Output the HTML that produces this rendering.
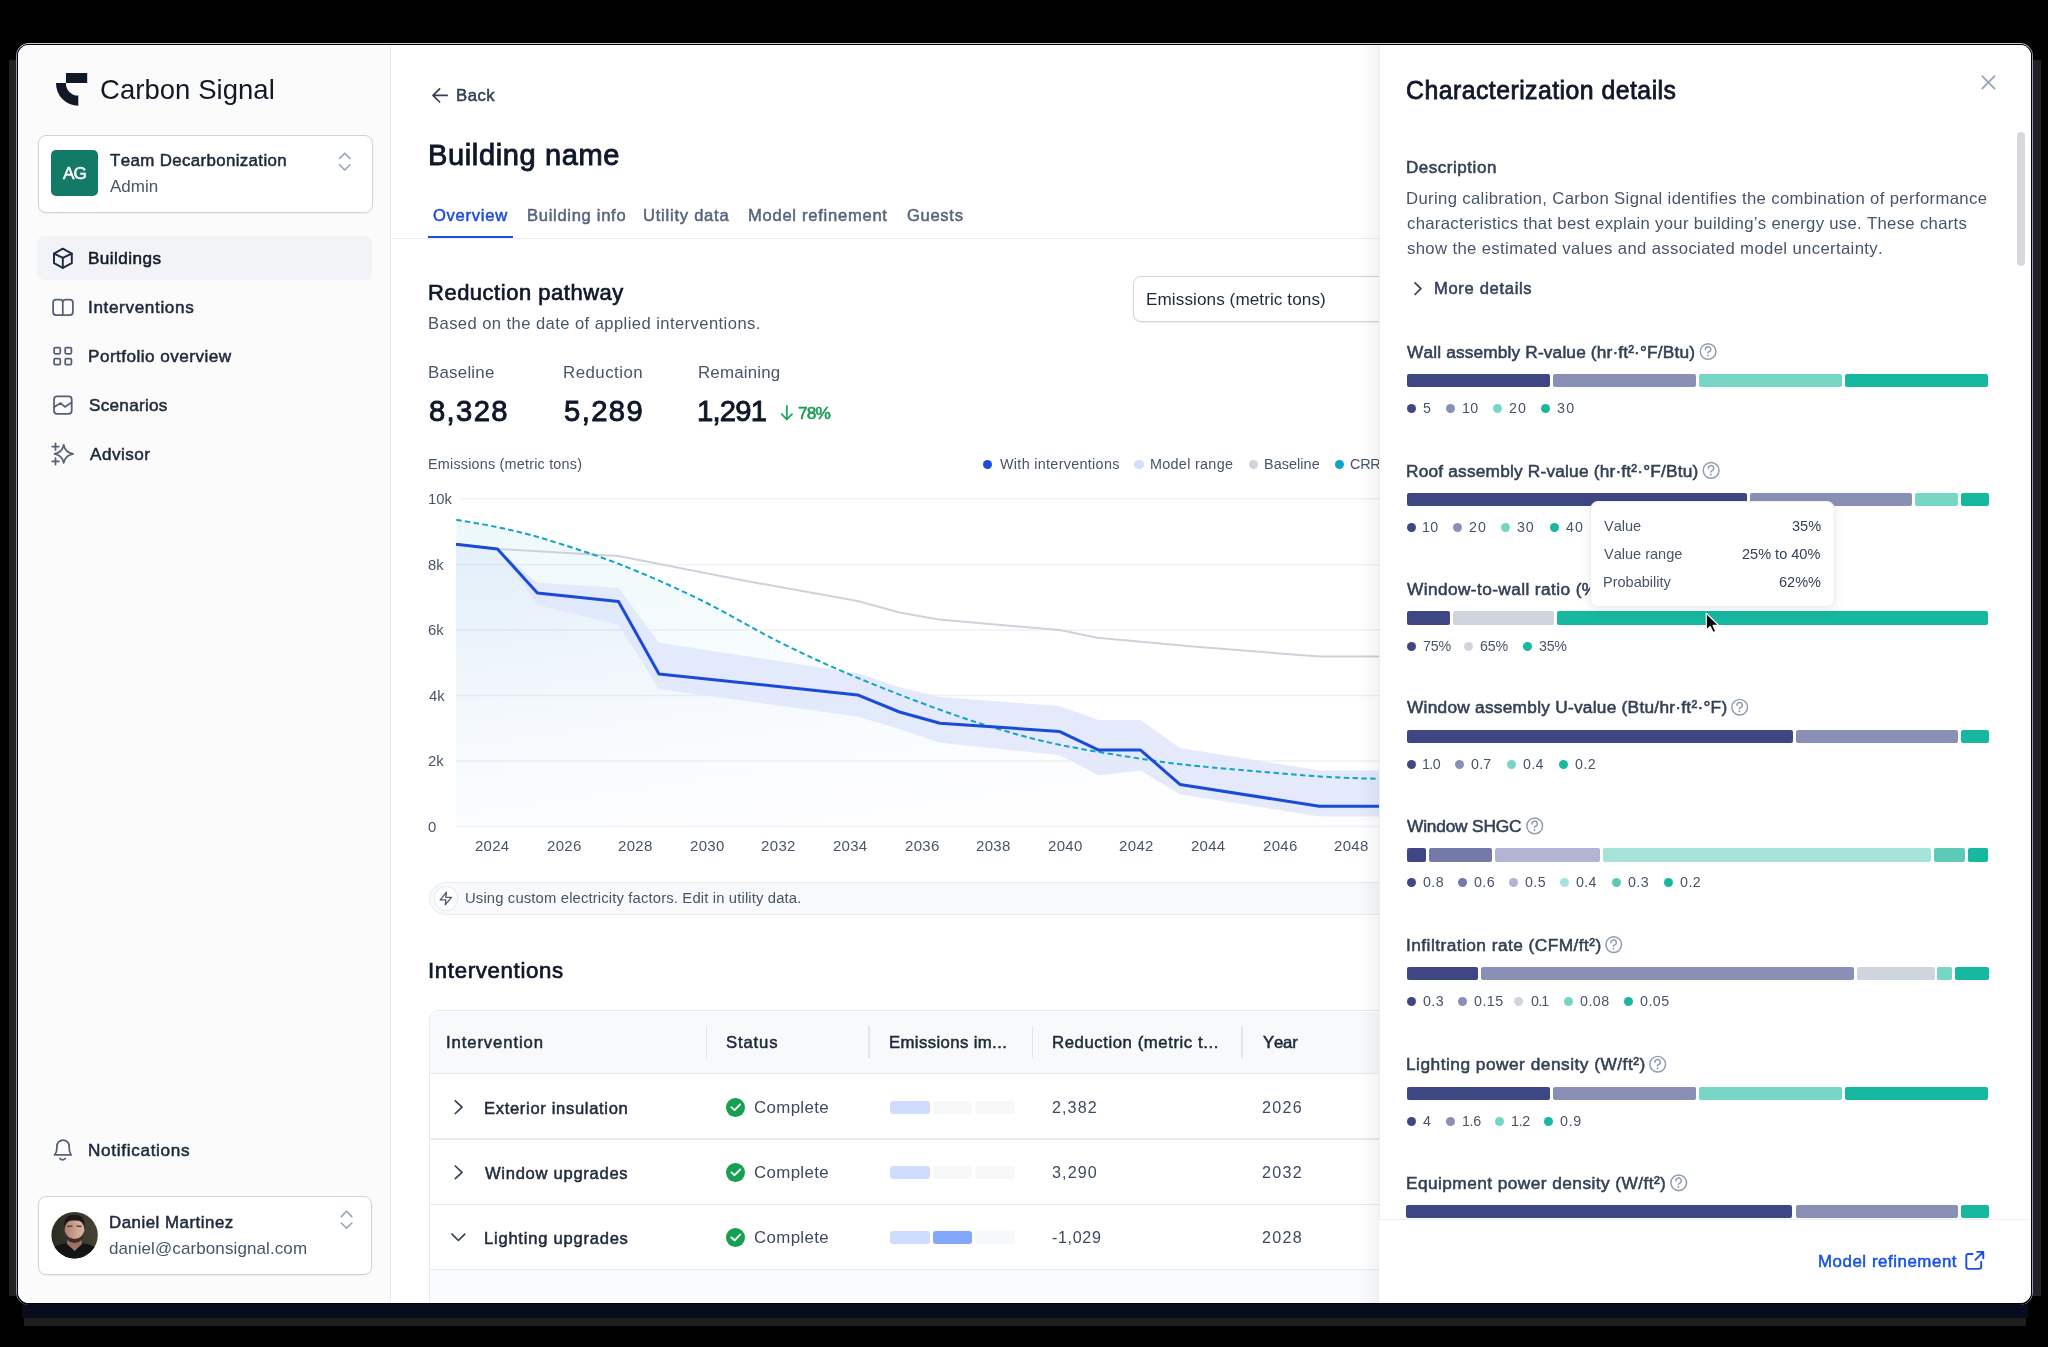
<!DOCTYPE html>
<html><head><meta charset="utf-8"><title>Carbon Signal</title>
<style>
*{margin:0;padding:0;box-sizing:border-box}
html,body{width:2048px;height:1347px;overflow:hidden;background:#000}
body{font-family:"Liberation Sans",sans-serif;font-kerning:none;position:relative}
.win{position:absolute;left:18px;top:45px;width:2013px;height:1258px;border-radius:11px;overflow:hidden;background:#fff}
.pg{position:absolute;left:-18px;top:-45px;width:2048px;height:1347px}
.t{position:absolute;white-space:nowrap;line-height:1;will-change:transform}
.r{position:absolute}
.bm{display:inline-block;width:0;height:0;vertical-align:baseline}
</style></head><body>
<div class="r" style="left:9.00px;top:60.00px;width:7.00px;height:1236.00px;background:rgba(200,200,200,0.17);border-radius:0px;"></div>
<div class="r" style="left:2033.00px;top:60.00px;width:8.00px;height:1236.00px;background:rgba(200,200,200,0.17);border-radius:0px;"></div>
<div class="r" style="left:22.00px;top:1303.00px;width:2006.00px;height:15.00px;background:rgba(25,35,80,0.35);border-radius:0px;"></div>
<div class="r" style="left:24.00px;top:1318.00px;width:2002.00px;height:8.00px;background:rgba(220,220,220,0.14);border-radius:0px;"></div>
<div class="r" style="left:16px;top:43px;width:2017px;height:1262px;border-radius:13px;border:1px solid #9396b4;border-top-color:#c8c8c8;border-bottom:none"></div>
<div class="r" style="left:17px;top:44px;width:2015px;height:1260px;border-radius:12px;border:1px solid #000"></div>
<div class="win"><div class="pg">
<div class="r" style="left:18.00px;top:45.00px;width:372.00px;height:1258.00px;background:#fbfbfc;border-radius:0px;"></div>
<div class="r" style="left:390.00px;top:45.00px;width:1.00px;height:1258.00px;background:#e9ebf0;border-radius:0px;"></div>
<svg class="r" style="left:50px;top:66px;" width="45" height="46" viewBox="50 66 45 46">
<rect x="66" y="73" width="21.2" height="10" fill="#111827"/>
<path d="M56 83 L66 83 A12 12 0 0 0 78.3 95.6 L78.3 105.8 A22.3 22.5 0 0 1 56 83 Z" fill="#111827"/>
</svg>
<div class="t" style="left:100.30px;top:76.11px;font-size:27.47px;color:#111827;letter-spacing:0.061px;">Carbon Signal</div>
<div class="r" style="left:37.50px;top:134.50px;width:335.00px;height:78.00px;background:#fff;border-radius:8px;border:1px solid #cdd3de;box-shadow:0 1px 2px rgba(16,24,40,.05)"></div>
<div class="r" style="left:51.20px;top:150.10px;width:46.60px;height:46.30px;background:#137a68;border-radius:5px;"></div>
<div class="t" style="left:62.67px;top:165.10px;font-size:17.15px;color:#ffffff;-webkit-text-stroke:0.53px #ffffff;letter-spacing:-0.966px;">AG</div>
<div class="t" style="left:110.02px;top:153.42px;font-size:16.86px;color:#1e293b;-webkit-text-stroke:0.52px #1e293b;letter-spacing:0.371px;">Team Decarbonization</div>
<div class="t" style="left:109.97px;top:177.90px;font-size:17.01px;color:#475569;letter-spacing:0.034px;">Admin</div>
<svg class="r" style="left:336px;top:150px;" width="18" height="24" viewBox="336 150 18 24"><path d="M339.5 158.5 L344.8 153.2 L350 158.5 M339.5 164.8 L344.8 170 L350 164.8" fill="none" stroke="#94a3b8" stroke-width="1.6" stroke-linecap="round" stroke-linejoin="round"/></svg>
<div class="r" style="left:37.40px;top:236.40px;width:334.90px;height:43.40px;background:#f1f3f7;border-radius:8px;"></div>
<div class="t" style="left:88.19px;top:250.01px;font-size:17.15px;color:#111827;-webkit-text-stroke:0.53px #111827;letter-spacing:0.441px;">Buildings</div>
<div class="t" style="left:88.02px;top:299.10px;font-size:17.15px;color:#1e293b;-webkit-text-stroke:0.53px #1e293b;letter-spacing:0.633px;">Interventions</div>
<div class="t" style="left:88.19px;top:348.21px;font-size:17.15px;color:#1e293b;-webkit-text-stroke:0.53px #1e293b;letter-spacing:0.465px;">Portfolio overview</div>
<div class="t" style="left:88.82px;top:397.31px;font-size:17.15px;color:#1e293b;-webkit-text-stroke:0.53px #1e293b;letter-spacing:0.266px;">Scenarios</div>
<div class="t" style="left:89.57px;top:446.40px;font-size:17.15px;color:#1e293b;-webkit-text-stroke:0.53px #1e293b;letter-spacing:0.488px;">Advisor</div>
<svg class="r" style="left:50px;top:246px;" width="26" height="24" viewBox="50 246 26 24"><g fill="none" stroke="#1e2a44" stroke-width="1.95" stroke-linecap="round" stroke-linejoin="round"><path d="M62.8 248.7 L71.8 253.6 L71.8 263.2 L62.8 267.9 L54 263.2 L54 253.6 Z"/><path d="M54 253.6 L62.8 257.8 L71.8 253.6 M62.8 257.8 L62.8 267.9"/></g></svg>
<svg class="r" style="left:50px;top:295px;" width="26" height="25" viewBox="50 295 26 25"><g fill="none" stroke="#556075" stroke-width="1.75" stroke-linecap="round" stroke-linejoin="round"><path d="M62.8 302.6 Q62.8 299.6 59.8 299.6 L56.1 299.6 Q53.1 299.6 53.1 302.6 L53.1 312.1 Q53.1 315.1 56.1 315.1 L69.9 315.1 Q72.9 315.1 72.9 312.1 L72.9 302.6 Q72.9 299.6 69.9 299.6 L65.8 299.6 Q62.8 299.6 62.8 302.6 L62.8 315.1"/></g></svg>
<svg class="r" style="left:50px;top:344px;" width="26" height="24" viewBox="50 344 26 24"><g fill="none" stroke="#556075" stroke-width="1.75" stroke-linecap="round" stroke-linejoin="round"><rect x="54.1" y="347.6" width="6.2" height="6.2" rx="1.2"/><rect x="65.2" y="347.6" width="6.2" height="6.2" rx="1.2"/><rect x="54.1" y="358.5" width="6.2" height="6.2" rx="1.2"/><rect x="65.2" y="358.5" width="6.2" height="6.2" rx="1.2"/></g></svg>
<svg class="r" style="left:50px;top:393px;" width="26" height="24" viewBox="50 393 26 24"><g fill="none" stroke="#556075" stroke-width="1.75" stroke-linecap="round" stroke-linejoin="round"><rect x="54" y="396.4" width="17.7" height="17.4" rx="3"/><path d="M54.2 407.1 L60.7 403.1 L64.9 406.9 L71.6 402.5"/></g></svg>
<svg class="r" style="left:50px;top:441px;" width="27" height="26" viewBox="50 441 27 26"><g fill="none" stroke="#556075" stroke-width="1.75" stroke-linecap="round" stroke-linejoin="round"><path d="M63.7 444.8 Q65.2 452.4 73.1 453.9 Q65.2 455.4 63.7 462.9 Q62.2 455.4 54.5 453.9 Q62.2 452.4 63.7 444.8 Z"/><path d="M55.5 443.3 L55.5 449.9 M52.2 446.6 L58.8 446.6 M55.5 458 L55.5 464.6 M52.2 461.3 L58.8 461.3"/></g></svg>
<svg class="r" style="left:50px;top:1136px;" width="26" height="28" viewBox="50 1136 26 28"><g fill="none" stroke="#556075" stroke-width="1.75" stroke-linecap="round" stroke-linejoin="round"><path d="M54.6 1154.9 L71.2 1154.9 Q69.2 1152.2 69.2 1148.2 L69.2 1146.3 A6.15 6.15 0 0 0 56.9 1146.3 L56.9 1148.2 Q56.9 1152.2 54.6 1154.9 Z"/><path d="M59.8 1158.5 Q62.6 1161.3 65.4 1158.5"/></g></svg>
<div class="t" style="left:87.99px;top:1142.01px;font-size:17.15px;color:#1e293b;-webkit-text-stroke:0.53px #1e293b;letter-spacing:0.684px;">Notifications</div>
<div class="r" style="left:37.60px;top:1196.00px;width:334.70px;height:78.50px;background:#fff;border-radius:8px;border:1px solid #cdd3de;box-shadow:0 1px 2px rgba(16,24,40,.05)"></div>
<svg class="r" style="left:51px;top:1211px;" width="48" height="48" viewBox="51 1211 48 48"><defs><clipPath id="av"><circle cx="74.6" cy="1235.2" r="23.2"/></clipPath>
<linearGradient id="avbg" x1="0" y1="0" x2="1" y2="0"><stop offset="0" stop-color="#2b2b24"/><stop offset="1" stop-color="#464437"/></linearGradient>
<linearGradient id="skin" x1="0" y1="0" x2="1" y2="0"><stop offset="0" stop-color="#a97f6d"/><stop offset="0.6" stop-color="#cfa592"/><stop offset="1" stop-color="#d9b5a4"/></linearGradient></defs>
<g clip-path="url(#av)">
<rect x="51" y="1211" width="48" height="48" fill="url(#avbg)"/>
<path d="M67.5 1236 L81.5 1236 L82.5 1256 L66.5 1256 Z" fill="#9d7463"/>
<ellipse cx="74.5" cy="1230.2" rx="9.9" ry="11.4" fill="url(#skin)"/>
<path d="M64.7 1231 Q65 1242.5 74.5 1243 Q84 1242.5 84.3 1231 Q82 1238.5 74.5 1239 Q67 1238.5 64.7 1231 Z" fill="#3b2d25"/>
<path d="M68 1226.4 L72 1226.2 M77 1226.2 L81 1226.4" stroke="#4a3328" stroke-width="1.3" stroke-linecap="round"/>
<path d="M64.4 1226.5 Q63.3 1215 74.3 1214.8 Q85.2 1215 84.6 1226.5 Q83 1220 74.5 1220.6 Q66 1220 64.4 1226.5 Z" fill="#1c1714"/>
<path d="M49 1263 L49 1250 Q56 1244.8 66.3 1243.2 L74.6 1251 L82.8 1243.2 Q93 1244.8 100 1250 L100 1263 Z" fill="#131417"/>
</g></svg>
<div class="t" style="left:108.62px;top:1214.61px;font-size:16.86px;color:#1e293b;-webkit-text-stroke:0.52px #1e293b;letter-spacing:0.506px;">Daniel Martinez</div>
<div class="t" style="left:109.29px;top:1239.61px;font-size:17.01px;color:#475569;letter-spacing:0.100px;">daniel@carbonsignal.com</div>
<svg class="r" style="left:336px;top:1209px;" width="20" height="26" viewBox="336 1209 20 26"><path d="M341.3 1216.6 L346.6 1211.3 L351.8 1216.6 M341.3 1223 L346.6 1228.2 L351.8 1223" fill="none" stroke="#94a3b8" stroke-width="1.6" stroke-linecap="round" stroke-linejoin="round"/></svg>
<svg class="r" style="left:428px;top:84px;" width="24" height="22" viewBox="428 84 24 22"><path d="M447.2 95.4 L433.2 95.4 M439.6 88.8 L433 95.4 L439.6 102" fill="none" stroke="#334155" stroke-width="1.7" stroke-linecap="round" stroke-linejoin="round"/></svg>
<div class="t" style="left:456.13px;top:87.90px;font-size:16.72px;color:#334155;-webkit-text-stroke:0.52px #334155;letter-spacing:0.495px;">Back</div>
<div class="t" style="left:428.02px;top:140.80px;font-size:29.07px;color:#0f172a;-webkit-text-stroke:0.90px #0f172a;letter-spacing:0.604px;">Building name</div>
<div class="t" style="left:432.82px;top:207.91px;font-size:16.57px;color:#1d4ed8;-webkit-text-stroke:0.51px #1d4ed8;letter-spacing:0.727px;">Overview</div>
<div class="t" style="left:526.74px;top:207.91px;font-size:16.57px;color:#56657e;-webkit-text-stroke:0.51px #56657e;letter-spacing:0.698px;">Building info</div>
<div class="t" style="left:643.22px;top:207.91px;font-size:16.57px;color:#56657e;-webkit-text-stroke:0.51px #56657e;letter-spacing:0.757px;">Utility data</div>
<div class="t" style="left:748.24px;top:207.91px;font-size:16.57px;color:#56657e;-webkit-text-stroke:0.51px #56657e;letter-spacing:0.731px;">Model refinement</div>
<div class="t" style="left:906.77px;top:207.91px;font-size:16.57px;color:#56657e;-webkit-text-stroke:0.51px #56657e;letter-spacing:0.688px;">Guests</div>
<div class="r" style="left:391.00px;top:237.50px;width:988.00px;height:1.30px;background:#eceef2;border-radius:0px;"></div>
<div class="r" style="left:428.40px;top:235.90px;width:84.90px;height:2.40px;background:#1d4ed8;border-radius:0px;"></div>
<div class="t" style="left:428.10px;top:282.21px;font-size:21.95px;color:#0f172a;-webkit-text-stroke:0.68px #0f172a;letter-spacing:0.542px;">Reduction pathway</div>
<div class="t" style="left:428.04px;top:316.30px;font-size:16.57px;color:#475569;letter-spacing:0.437px;">Based on the date of applied interventions.</div>
<div class="r" style="left:1133.00px;top:276.30px;width:267.00px;height:45.40px;background:#fff;border-radius:8px;border:1px solid #cfd4dd;box-shadow:0 1px 2px rgba(16,24,40,.06)"></div>
<div class="t" style="left:1146.49px;top:291.10px;font-size:17.15px;color:#1e293b;letter-spacing:0.075px;">Emissions (metric tons)</div>
<div class="t" style="left:428.02px;top:365.22px;font-size:16.86px;color:#475569;letter-spacing:0.237px;">Baseline</div>
<div class="t" style="left:563.02px;top:365.22px;font-size:16.86px;color:#475569;letter-spacing:0.469px;">Reduction</div>
<div class="t" style="left:698.22px;top:365.22px;font-size:16.86px;color:#475569;letter-spacing:0.184px;">Remaining</div>
<div class="t" style="left:428.63px;top:397.10px;font-size:29.22px;color:#0f172a;-webkit-text-stroke:0.91px #0f172a;letter-spacing:1.357px;">8,328</div>
<div class="t" style="left:563.53px;top:397.10px;font-size:29.22px;color:#0f172a;-webkit-text-stroke:0.91px #0f172a;letter-spacing:1.411px;">5,289</div>
<div class="t" style="left:697.37px;top:397.10px;font-size:29.22px;color:#0f172a;-webkit-text-stroke:0.91px #0f172a;letter-spacing:-0.765px;">1,291</div>
<svg class="r" style="left:778px;top:402px;" width="18" height="22" viewBox="778 402 18 22"><path d="M786.8 406 L786.8 419.3 M781.6 414.2 L786.8 419.4 L792 414.2" fill="none" stroke="#1aab5e" stroke-width="1.8" stroke-linecap="round" stroke-linejoin="round"/></svg>
<div class="t" style="left:798.11px;top:404.91px;font-size:17.30px;color:#169c55;-webkit-text-stroke:0.54px #169c55;letter-spacing:-0.908px;">78%</div>
<div class="t" style="left:428.32px;top:457.00px;font-size:14.39px;color:#475569;letter-spacing:0.207px;">Emissions (metric tons)</div>
<div class="r" style="left:983.20px;top:459.70px;width:9.20px;height:9.20px;background:#1d4ed8;border-radius:5px;"></div>
<div class="t" style="left:1000.04px;top:456.90px;font-size:14.39px;color:#475569;letter-spacing:0.301px;">With interventions</div>
<div class="r" style="left:1134.40px;top:459.70px;width:9.20px;height:9.20px;background:#d3ddfc;border-radius:5px;"></div>
<div class="t" style="left:1150.22px;top:456.90px;font-size:14.39px;color:#475569;letter-spacing:0.303px;">Model range</div>
<div class="r" style="left:1248.70px;top:459.70px;width:9.20px;height:9.20px;background:#cfd4dc;border-radius:5px;"></div>
<div class="t" style="left:1264.32px;top:456.90px;font-size:14.39px;color:#475569;letter-spacing:0.075px;">Baseline</div>
<div class="r" style="left:1334.90px;top:459.70px;width:9.20px;height:9.20px;background:#0ea5c9;border-radius:5px;"></div>
<div class="t" style="left:1350.27px;top:456.90px;font-size:14.39px;color:#475569;letter-spacing:-0.212px;">CRREM</div>
<svg class="r" style="left:420px;top:480px;" width="959" height="390" viewBox="420 480 959 390"><defs>
<linearGradient id="ga" x1="0" y1="0" x2="0.45" y2="1"><stop offset="0" stop-color="#0ea5c9" stop-opacity="0.075"/><stop offset="0.6" stop-color="#0ea5c9" stop-opacity="0.02"/><stop offset="1" stop-color="#0ea5c9" stop-opacity="0.0"/></linearGradient>
<linearGradient id="gb" x1="0" y1="0" x2="0.5" y2="1"><stop offset="0" stop-color="#1d4ed8" stop-opacity="0.06"/><stop offset="0.7" stop-color="#1d4ed8" stop-opacity="0.012"/><stop offset="1" stop-color="#1d4ed8" stop-opacity="0.008"/></linearGradient>
</defs><line x1="460.5" y1="498.8" x2="1379" y2="498.8" stroke="#f0f1f4" stroke-width="1.4"/><line x1="456.3" y1="564.6" x2="1379" y2="564.6" stroke="#f0f1f4" stroke-width="1.4"/><line x1="456.3" y1="630.0" x2="1379" y2="630.0" stroke="#f0f1f4" stroke-width="1.4"/><line x1="456.3" y1="695.5" x2="1379" y2="695.5" stroke="#f0f1f4" stroke-width="1.4"/><line x1="456.3" y1="761.0" x2="1379" y2="761.0" stroke="#f0f1f4" stroke-width="1.4"/><line x1="456.3" y1="826.6" x2="1379" y2="826.6" stroke="#f0f1f4" stroke-width="1.4"/><path d="M456.30 519.80 C463.25 521.05 483.38 524.13 498.00 527.30 C512.62 530.47 523.92 532.72 544.00 538.80 C564.08 544.88 592.50 553.67 618.50 563.80 C644.50 573.93 672.97 586.45 700.00 599.60 C727.03 612.75 754.43 629.67 780.70 642.70 C806.97 655.73 831.05 666.62 857.60 677.80 C884.15 688.98 916.27 701.18 940.00 709.80 C963.73 718.42 980.12 723.68 1000.00 729.50 C1019.88 735.32 1035.87 739.83 1059.30 744.70 C1082.73 749.57 1117.15 755.10 1140.60 758.70 C1164.05 762.30 1170.20 763.35 1200.00 766.30 C1229.80 769.25 1288.57 774.28 1319.40 776.40 C1350.23 778.52 1374.07 778.57 1385.00 779.00 L1385 826.6 L456 826.6 Z" fill="url(#ga)"/><polygon points="456.0,544.3 497.5,549.0 537.4,593.0 618.5,601.6 659.0,674.0 857.6,694.9 899.5,712.0 940.0,723.2 1059.3,731.4 1098.7,750.1 1140.6,750.1 1179.9,784.4 1319.4,806.3 1385.0,806.3 1385,826.6 456,826.6" fill="url(#gb)"/><polygon points="456.0,544.3 497.5,549.0 537.4,582.8 618.5,587.7 659.0,642.8 857.6,673.3 899.5,687.3 940.0,697.1 1059.3,706.0 1098.7,720.0 1140.6,720.0 1179.9,747.9 1319.4,770.4 1385.0,770.4 1385.0,816.4 1319.4,816.4 1179.9,794.3 1140.6,770.4 1098.7,775.2 1059.3,754.9 940.0,742.8 899.5,729.0 857.6,716.5 659.0,689.0 618.5,624.8 537.4,605.0 497.5,549.0 456.0,544.3" fill="#dfe6fc" fill-opacity="0.85"/><polyline points="456.0,544.3 497.5,549.0 618.5,555.9 662.0,564.6 740.8,580.0 857.6,601.0 899.5,612.4 938.8,619.6 1059.6,630.0 1097.2,637.8 1190.0,646.2 1319.4,656.6 1385.0,656.6" fill="none" stroke="#cdd2db" stroke-width="2"/><path d="M456.30 519.80 C463.25 521.05 483.38 524.13 498.00 527.30 C512.62 530.47 523.92 532.72 544.00 538.80 C564.08 544.88 592.50 553.67 618.50 563.80 C644.50 573.93 672.97 586.45 700.00 599.60 C727.03 612.75 754.43 629.67 780.70 642.70 C806.97 655.73 831.05 666.62 857.60 677.80 C884.15 688.98 916.27 701.18 940.00 709.80 C963.73 718.42 980.12 723.68 1000.00 729.50 C1019.88 735.32 1035.87 739.83 1059.30 744.70 C1082.73 749.57 1117.15 755.10 1140.60 758.70 C1164.05 762.30 1170.20 763.35 1200.00 766.30 C1229.80 769.25 1288.57 774.28 1319.40 776.40 C1350.23 778.52 1374.07 778.57 1385.00 779.00" fill="none" stroke="#12a4c7" stroke-width="2" stroke-dasharray="5.5 3.3"/><polyline points="456.0,544.3 497.5,549.0 537.4,593.0 618.5,601.6 659.0,674.0 857.6,694.9 899.5,712.0 940.0,723.2 1059.3,731.4 1098.7,750.1 1140.6,750.1 1179.9,784.4 1319.4,806.3 1385.0,806.3" fill="none" stroke="#1a4bd8" stroke-width="3" stroke-linejoin="round"/></svg>
<div class="t" style="left:427.77px;top:491.90px;font-size:14.83px;color:#475569;">10k</div>
<div class="t" style="left:428.26px;top:557.71px;font-size:14.83px;color:#475569;">8k</div>
<div class="t" style="left:428.15px;top:623.10px;font-size:14.83px;color:#475569;">6k</div>
<div class="t" style="left:428.56px;top:688.60px;font-size:14.83px;color:#475569;">4k</div>
<div class="t" style="left:428.15px;top:754.10px;font-size:14.83px;color:#475569;">2k</div>
<div class="t" style="left:428.32px;top:819.71px;font-size:14.83px;color:#475569;">0</div>
<div class="t" style="left:474.95px;top:839.01px;font-size:14.97px;color:#475569;letter-spacing:0.262px;">2024</div>
<div class="t" style="left:546.55px;top:839.01px;font-size:14.97px;color:#475569;letter-spacing:0.335px;">2026</div>
<div class="t" style="left:618.15px;top:839.01px;font-size:14.97px;color:#475569;letter-spacing:0.333px;">2028</div>
<div class="t" style="left:689.75px;top:839.01px;font-size:14.97px;color:#475569;letter-spacing:0.311px;">2030</div>
<div class="t" style="left:761.35px;top:839.01px;font-size:14.97px;color:#475569;letter-spacing:0.367px;">2032</div>
<div class="t" style="left:832.95px;top:839.01px;font-size:14.97px;color:#475569;letter-spacing:0.262px;">2034</div>
<div class="t" style="left:904.55px;top:839.01px;font-size:14.97px;color:#475569;letter-spacing:0.335px;">2036</div>
<div class="t" style="left:976.15px;top:839.01px;font-size:14.97px;color:#475569;letter-spacing:0.333px;">2038</div>
<div class="t" style="left:1047.75px;top:839.01px;font-size:14.97px;color:#475569;letter-spacing:0.311px;">2040</div>
<div class="t" style="left:1119.35px;top:839.01px;font-size:14.97px;color:#475569;letter-spacing:0.367px;">2042</div>
<div class="t" style="left:1190.95px;top:839.01px;font-size:14.97px;color:#475569;letter-spacing:0.262px;">2044</div>
<div class="t" style="left:1262.55px;top:839.01px;font-size:14.97px;color:#475569;letter-spacing:0.335px;">2046</div>
<div class="t" style="left:1334.15px;top:839.01px;font-size:14.97px;color:#475569;letter-spacing:0.333px;">2048</div>
<div class="r" style="left:429.20px;top:881.50px;width:970.80px;height:33.90px;background:#f8f9fb;border-radius:17px;border:1.5px solid #e9ebf0"></div>
<div class="r" style="left:433.7px;top:886.3px;width:24.2px;height:24.7px;border-radius:50%;background:#fff;border:1.2px solid #e6e9ee"></div>
<svg class="r" style="left:436px;top:889px;" width="20" height="20" viewBox="436 889 20 20"><path d="M446.5 892.2 L440.2 899.9 L445.9 899.9 L445.2 904.9 L451.5 897.3 L445.8 897.3 Z" fill="none" stroke="#4b5a72" stroke-width="1.3" stroke-linejoin="round" stroke-linecap="round"/></svg>
<div class="t" style="left:465.46px;top:891.40px;font-size:14.83px;color:#475569;letter-spacing:0.140px;">Using custom electricity factors. Edit in utility data.</div>
<div class="t" style="left:427.75px;top:960.01px;font-size:22.24px;color:#0f172a;-webkit-text-stroke:0.69px #0f172a;letter-spacing:0.652px;">Interventions</div>
<div class="r" style="left:428.50px;top:1010.10px;width:971.50px;height:389.90px;background:#fff;border-radius:10px;border:1.5px solid #e8eaef"></div>
<div class="r" style="left:430.00px;top:1011.60px;width:970.00px;height:61.70px;background:#f8f9fb;border-radius:0px;border-top-left-radius:9px"></div>
<div class="r" style="left:430.00px;top:1073.00px;width:970.00px;height:1.40px;background:#e8ebf0;border-radius:0px;"></div>
<div class="r" style="left:430.00px;top:1138.40px;width:970.00px;height:1.40px;background:#e8ebf0;border-radius:0px;"></div>
<div class="r" style="left:430.00px;top:1203.60px;width:970.00px;height:1.40px;background:#e8ebf0;border-radius:0px;"></div>
<div class="r" style="left:430.00px;top:1268.60px;width:970.00px;height:1.40px;background:#e8ebf0;border-radius:0px;"></div>
<div class="r" style="left:430.00px;top:1270.00px;width:970.00px;height:130.00px;background:#fafbfc;border-radius:0px;"></div>
<div class="r" style="left:705.80px;top:1026.00px;width:1.60px;height:32.00px;background:#e3e6ec;border-radius:0px;"></div>
<div class="r" style="left:868.20px;top:1026.00px;width:1.60px;height:32.00px;background:#e3e6ec;border-radius:0px;"></div>
<div class="r" style="left:1031.70px;top:1026.00px;width:1.60px;height:32.00px;background:#e3e6ec;border-radius:0px;"></div>
<div class="r" style="left:1241.20px;top:1026.00px;width:1.60px;height:32.00px;background:#e3e6ec;border-radius:0px;"></div>
<div class="t" style="left:446.26px;top:1034.90px;font-size:16.72px;color:#1e293b;-webkit-text-stroke:0.52px #1e293b;letter-spacing:0.880px;">Intervention</div>
<div class="t" style="left:726.24px;top:1034.90px;font-size:16.72px;color:#1e293b;-webkit-text-stroke:0.52px #1e293b;letter-spacing:0.835px;">Status</div>
<div class="t" style="left:888.63px;top:1034.90px;font-size:16.72px;color:#1e293b;-webkit-text-stroke:0.52px #1e293b;letter-spacing:0.394px;">Emissions im...</div>
<div class="t" style="left:1051.63px;top:1034.90px;font-size:16.72px;color:#1e293b;-webkit-text-stroke:0.52px #1e293b;letter-spacing:0.581px;">Reduction (metric t...</div>
<div class="t" style="left:1262.63px;top:1034.90px;font-size:16.72px;color:#1e293b;-webkit-text-stroke:0.52px #1e293b;letter-spacing:-0.188px;">Year</div>
<svg class="r" style="left:450px;top:1097px;" width="18" height="20" viewBox="450 1097 18 20"><path d="M455.3 1100.9 L462 1107.2 L455.3 1113.5" fill="none" stroke="#334155" stroke-width="1.7" stroke-linecap="round" stroke-linejoin="round"/></svg>
<div class="t" style="left:483.64px;top:1100.50px;font-size:16.57px;color:#1e293b;-webkit-text-stroke:0.51px #1e293b;letter-spacing:0.674px;">Exterior insulation</div>
<div class="r" style="left:726.3px;top:1097.8px;width:18.8px;height:18.8px;border-radius:50%;background:#16a052"></div>
<svg class="r" style="left:726px;top:1097px;" width="20" height="20" viewBox="726 1097 20 20"><path d="M731.4 1107.3 L734.6 1110.1 L740.2 1104.4" fill="none" stroke="#fff" stroke-width="1.9" stroke-linecap="round" stroke-linejoin="round"/></svg>
<div class="t" style="left:754.24px;top:1099.92px;font-size:16.86px;color:#3b4a63;letter-spacing:0.349px;">Complete</div>
<div class="r" style="left:889.60px;top:1100.60px;width:40.10px;height:13.60px;background:#d0dcfd;border-radius:3px;"></div>
<div class="r" style="left:932.50px;top:1100.60px;width:39.80px;height:13.60px;background:#f7f8fa;border-radius:3px;"></div>
<div class="r" style="left:975.20px;top:1100.60px;width:39.80px;height:13.60px;background:#f7f8fa;border-radius:3px;"></div>
<div class="t" style="left:1052.19px;top:1098.81px;font-size:16.13px;color:#3b4a63;letter-spacing:1.087px;">2,382</div>
<div class="t" style="left:1262.19px;top:1098.81px;font-size:16.13px;color:#3b4a63;letter-spacing:1.276px;">2026</div>
<svg class="r" style="left:450px;top:1162px;" width="18" height="20" viewBox="450 1162 18 20"><path d="M455.3 1166.0 L462 1172.3 L455.3 1178.6" fill="none" stroke="#334155" stroke-width="1.7" stroke-linecap="round" stroke-linejoin="round"/></svg>
<div class="t" style="left:484.93px;top:1165.61px;font-size:16.57px;color:#1e293b;-webkit-text-stroke:0.51px #1e293b;letter-spacing:0.717px;">Window upgrades</div>
<div class="r" style="left:726.3px;top:1162.9px;width:18.8px;height:18.8px;border-radius:50%;background:#16a052"></div>
<svg class="r" style="left:726px;top:1162px;" width="20" height="20" viewBox="726 1162 20 20"><path d="M731.4 1172.4 L734.6 1175.2 L740.2 1169.5" fill="none" stroke="#fff" stroke-width="1.9" stroke-linecap="round" stroke-linejoin="round"/></svg>
<div class="t" style="left:754.24px;top:1165.01px;font-size:16.86px;color:#3b4a63;letter-spacing:0.349px;">Complete</div>
<div class="r" style="left:889.60px;top:1165.70px;width:40.10px;height:13.60px;background:#d0dcfd;border-radius:3px;"></div>
<div class="r" style="left:932.50px;top:1165.70px;width:39.80px;height:13.60px;background:#f7f8fa;border-radius:3px;"></div>
<div class="r" style="left:975.20px;top:1165.70px;width:39.80px;height:13.60px;background:#f7f8fa;border-radius:3px;"></div>
<div class="t" style="left:1052.39px;top:1163.91px;font-size:16.13px;color:#3b4a63;letter-spacing:1.118px;">3,290</div>
<div class="t" style="left:1262.19px;top:1163.91px;font-size:16.13px;color:#3b4a63;letter-spacing:1.310px;">2032</div>
<svg class="r" style="left:448px;top:1227px;" width="20" height="20" viewBox="448 1227 20 20"><path d="M452 1234.1 L458.4 1240.5 L464.8 1234.1" fill="none" stroke="#334155" stroke-width="1.7" stroke-linecap="round" stroke-linejoin="round"/></svg>
<div class="t" style="left:483.64px;top:1230.71px;font-size:16.57px;color:#1e293b;-webkit-text-stroke:0.51px #1e293b;letter-spacing:0.763px;">Lighting upgrades</div>
<div class="r" style="left:726.3px;top:1228.0px;width:18.8px;height:18.8px;border-radius:50%;background:#16a052"></div>
<svg class="r" style="left:726px;top:1227px;" width="20" height="20" viewBox="726 1227 20 20"><path d="M731.4 1237.5 L734.6 1240.3 L740.2 1234.6" fill="none" stroke="#fff" stroke-width="1.9" stroke-linecap="round" stroke-linejoin="round"/></svg>
<div class="t" style="left:754.24px;top:1230.11px;font-size:16.86px;color:#3b4a63;letter-spacing:0.349px;">Complete</div>
<div class="r" style="left:889.60px;top:1230.80px;width:40.10px;height:13.60px;background:#d0dcfd;border-radius:3px;"></div>
<div class="r" style="left:932.50px;top:1230.80px;width:39.80px;height:13.60px;background:#84a5fc;border-radius:3px;"></div>
<div class="r" style="left:975.20px;top:1230.80px;width:39.80px;height:13.60px;background:#f7f8fa;border-radius:3px;"></div>
<div class="t" style="left:1052.28px;top:1229.01px;font-size:16.13px;color:#3b4a63;letter-spacing:0.647px;">-1,029</div>
<div class="t" style="left:1262.19px;top:1229.01px;font-size:16.13px;color:#3b4a63;letter-spacing:1.274px;">2028</div>
<div class="r" style="left:1359px;top:43px;width:20px;height:1260px;background:linear-gradient(to right, rgba(15,23,42,0), rgba(15,23,42,0.05))"></div>
<div class="r" style="left:1379.00px;top:43.00px;width:653.00px;height:1260.00px;background:#fff;border-radius:0px;border-left:1px solid #eceef2"></div>
<div class="t" style="left:1406.34px;top:78.11px;font-size:24.86px;color:#0f172a;-webkit-text-stroke:0.77px #0f172a;letter-spacing:0.445px;">Characterization details</div>
<svg class="r" style="left:1978px;top:72px;" width="22" height="22" viewBox="1978 72 22 22"><path d="M1982.2 76.2 L1994.6 88.6 M1994.6 76.2 L1982.2 88.6" fill="none" stroke="#94a3b8" stroke-width="1.7" stroke-linecap="round"/></svg>
<div class="r" style="left:2017.00px;top:131.80px;width:8.00px;height:134.20px;background:#d6d8dd;border-radius:4px;"></div>
<div class="t" style="left:1405.90px;top:159.40px;font-size:17.01px;color:#334155;-webkit-text-stroke:0.53px #334155;letter-spacing:0.534px;">Description</div>
<div class="t" style="left:1405.93px;top:190.70px;font-size:16.72px;color:#475569;letter-spacing:0.348px;">During calibration, Carbon Signal identifies the combination of performance</div>
<div class="t" style="left:1406.59px;top:216.31px;font-size:16.72px;color:#475569;letter-spacing:0.306px;">characteristics that best explain your building’s energy use. These charts</div>
<div class="t" style="left:1406.83px;top:241.40px;font-size:16.72px;color:#475569;letter-spacing:0.357px;">show the estimated values and associated model uncertainty.</div>
<svg class="r" style="left:1408px;top:278px;" width="20" height="22" viewBox="1408 278 20 22"><path d="M1415 282.9 L1420.9 288.7 L1415 294.5" fill="none" stroke="#334155" stroke-width="1.7" stroke-linecap="round" stroke-linejoin="round"/></svg>
<div class="t" style="left:1434.04px;top:281.30px;font-size:16.57px;color:#334155;-webkit-text-stroke:0.51px #334155;letter-spacing:0.673px;">More details</div>
<div class="t" style="left:1407.22px;top:343.60px;font-size:17.30px;color:#334155;-webkit-text-stroke:0.54px #334155;letter-spacing:0.150px;">Wall assembly R-value (hr·ft²·°F/Btu)</div>
<svg class="r" style="left:1698px;top:341px;" width="20" height="20" viewBox="1698 341 20 20"><circle cx="1708.10" cy="351.50" r="7.85" fill="none" stroke="#8f9bb0" stroke-width="1.45"/><path d="M1705.40 349.60 A2.65 2.65 0 1 1 1709.10 351.80 Q1707.85 352.20 1707.85 353.10" fill="none" stroke="#8f9bb0" stroke-width="1.45" stroke-linecap="round"/><circle cx="1707.85" cy="355.60" r="0.95" fill="#8f9bb0"/></svg>
<div class="r" style="left:1406.60px;top:373.80px;width:143.30px;height:13.40px;background:#3e4684;border-radius:2px;"></div>
<div class="r" style="left:1552.90px;top:373.80px;width:142.90px;height:13.40px;background:#8a8fb5;border-radius:2px;"></div>
<div class="r" style="left:1698.80px;top:373.80px;width:143.50px;height:13.40px;background:#77d5c5;border-radius:2px;"></div>
<div class="r" style="left:1845.30px;top:373.80px;width:143.20px;height:13.40px;background:#16b8a0;border-radius:2px;"></div>
<div class="r" style="left:1406.5px;top:403.9px;width:9px;height:9px;border-radius:50%;background:#3e4684"></div>
<div class="t" style="left:1422.73px;top:401.00px;font-size:14.24px;color:#475569;">5</div>
<div class="r" style="left:1445.9px;top:403.9px;width:9px;height:9px;border-radius:50%;background:#8a8fb5"></div>
<div class="t" style="left:1461.61px;top:401.00px;font-size:14.24px;color:#475569;letter-spacing:0.297px;">10</div>
<div class="r" style="left:1492.8px;top:403.9px;width:9px;height:9px;border-radius:50%;background:#77d5c5"></div>
<div class="t" style="left:1508.88px;top:401.00px;font-size:14.24px;color:#475569;letter-spacing:1.129px;">20</div>
<div class="r" style="left:1540.6px;top:403.9px;width:9px;height:9px;border-radius:50%;background:#16b8a0"></div>
<div class="t" style="left:1556.86px;top:401.00px;font-size:14.24px;color:#475569;letter-spacing:1.355px;">30</div>
<div class="t" style="left:1405.88px;top:462.50px;font-size:17.30px;color:#334155;-webkit-text-stroke:0.54px #334155;letter-spacing:0.193px;">Roof assembly R-value (hr·ft²·°F/Btu)</div>
<svg class="r" style="left:1701px;top:460px;" width="20" height="20" viewBox="1701 460 20 20"><circle cx="1711.10" cy="470.40" r="7.85" fill="none" stroke="#8f9bb0" stroke-width="1.45"/><path d="M1708.40 468.50 A2.65 2.65 0 1 1 1712.10 470.70 Q1710.85 471.10 1710.85 472.00" fill="none" stroke="#8f9bb0" stroke-width="1.45" stroke-linecap="round"/><circle cx="1710.85" cy="474.50" r="0.95" fill="#8f9bb0"/></svg>
<div class="r" style="left:1406.60px;top:492.70px;width:340.60px;height:13.40px;background:#3e4684;border-radius:2px;"></div>
<div class="r" style="left:1750.30px;top:492.70px;width:162.20px;height:13.40px;background:#8a8fb5;border-radius:2px;"></div>
<div class="r" style="left:1915.30px;top:492.70px;width:42.70px;height:13.40px;background:#77d5c5;border-radius:2px;"></div>
<div class="r" style="left:1961.00px;top:492.70px;width:27.50px;height:13.40px;background:#16b8a0;border-radius:2px;"></div>
<div class="r" style="left:1406.5px;top:522.8px;width:9px;height:9px;border-radius:50%;background:#3e4684"></div>
<div class="t" style="left:1422.21px;top:519.91px;font-size:14.24px;color:#475569;letter-spacing:0.297px;">10</div>
<div class="r" style="left:1453.2px;top:522.8px;width:9px;height:9px;border-radius:50%;background:#8a8fb5"></div>
<div class="t" style="left:1469.28px;top:519.91px;font-size:14.24px;color:#475569;letter-spacing:1.129px;">20</div>
<div class="r" style="left:1500.8px;top:522.8px;width:9px;height:9px;border-radius:50%;background:#77d5c5"></div>
<div class="t" style="left:1517.06px;top:519.91px;font-size:14.24px;color:#475569;letter-spacing:0.955px;">30</div>
<div class="r" style="left:1549.7px;top:522.8px;width:9px;height:9px;border-radius:50%;background:#16b8a0"></div>
<div class="t" style="left:1566.17px;top:519.91px;font-size:14.24px;color:#475569;letter-spacing:1.039px;">40</div>
<div class="t" style="left:1407.22px;top:581.21px;font-size:17.30px;color:#334155;-webkit-text-stroke:0.54px #334155;letter-spacing:0.393px;">Window-to-wall ratio (%)</div>
<svg class="r" style="left:1609px;top:579px;" width="20" height="20" viewBox="1609 579 20 20"><circle cx="1618.70" cy="589.10" r="7.85" fill="none" stroke="#8f9bb0" stroke-width="1.45"/><path d="M1616.00 587.20 A2.65 2.65 0 1 1 1619.70 589.40 Q1618.45 589.80 1618.45 590.70" fill="none" stroke="#8f9bb0" stroke-width="1.45" stroke-linecap="round"/><circle cx="1618.45" cy="593.20" r="0.95" fill="#8f9bb0"/></svg>
<div class="r" style="left:1406.60px;top:611.40px;width:43.90px;height:13.40px;background:#3e4684;border-radius:2px;"></div>
<div class="r" style="left:1453.30px;top:611.40px;width:100.50px;height:13.40px;background:#d0d4dd;border-radius:2px;"></div>
<div class="r" style="left:1556.80px;top:611.40px;width:431.70px;height:13.40px;background:#16b8a0;border-radius:2px;"></div>
<div class="r" style="left:1406.5px;top:641.5px;width:9px;height:9px;border-radius:50%;background:#3e4684"></div>
<div class="t" style="left:1422.57px;top:638.61px;font-size:14.24px;color:#475569;letter-spacing:-0.136px;">75%</div>
<div class="r" style="left:1464.2px;top:641.5px;width:9px;height:9px;border-radius:50%;background:#d0d4dd"></div>
<div class="t" style="left:1480.28px;top:638.61px;font-size:14.24px;color:#475569;letter-spacing:-0.139px;">65%</div>
<div class="r" style="left:1523.2px;top:641.5px;width:9px;height:9px;border-radius:50%;background:#16b8a0"></div>
<div class="t" style="left:1539.46px;top:638.61px;font-size:14.24px;color:#475569;letter-spacing:-0.230px;">35%</div>
<div class="t" style="left:1407.22px;top:699.30px;font-size:17.30px;color:#334155;-webkit-text-stroke:0.54px #334155;letter-spacing:0.258px;">Window assembly U-value (Btu/hr·ft²·°F)</div>
<svg class="r" style="left:1730px;top:697px;" width="20" height="20" viewBox="1730 697 20 20"><circle cx="1739.70" cy="707.20" r="7.85" fill="none" stroke="#8f9bb0" stroke-width="1.45"/><path d="M1737.00 705.30 A2.65 2.65 0 1 1 1740.70 707.50 Q1739.45 707.90 1739.45 708.80" fill="none" stroke="#8f9bb0" stroke-width="1.45" stroke-linecap="round"/><circle cx="1739.45" cy="711.30" r="0.95" fill="#8f9bb0"/></svg>
<div class="r" style="left:1406.60px;top:729.50px;width:386.10px;height:13.40px;background:#3e4684;border-radius:2px;"></div>
<div class="r" style="left:1795.70px;top:729.50px;width:162.30px;height:13.40px;background:#8a8fb5;border-radius:2px;"></div>
<div class="r" style="left:1961.00px;top:729.50px;width:27.50px;height:13.40px;background:#16b8a0;border-radius:2px;"></div>
<div class="r" style="left:1406.5px;top:759.6px;width:9px;height:9px;border-radius:50%;background:#3e4684"></div>
<div class="t" style="left:1422.21px;top:756.71px;font-size:14.24px;color:#475569;letter-spacing:-0.580px;">1.0</div>
<div class="r" style="left:1455.0px;top:759.6px;width:9px;height:9px;border-radius:50%;background:#8a8fb5"></div>
<div class="t" style="left:1471.24px;top:756.71px;font-size:14.24px;color:#475569;letter-spacing:0.236px;">0.7</div>
<div class="r" style="left:1506.5px;top:759.6px;width:9px;height:9px;border-radius:50%;background:#77d5c5"></div>
<div class="t" style="left:1522.74px;top:756.71px;font-size:14.24px;color:#475569;letter-spacing:0.336px;">0.4</div>
<div class="r" style="left:1558.7px;top:759.6px;width:9px;height:9px;border-radius:50%;background:#16b8a0"></div>
<div class="t" style="left:1574.94px;top:756.71px;font-size:14.24px;color:#475569;letter-spacing:0.486px;">0.2</div>
<div class="t" style="left:1407.22px;top:818.00px;font-size:17.30px;color:#334155;-webkit-text-stroke:0.54px #334155;letter-spacing:-0.176px;">Window SHGC</div>
<svg class="r" style="left:1525px;top:815px;" width="20" height="20" viewBox="1525 815 20 20"><circle cx="1534.70" cy="825.90" r="7.85" fill="none" stroke="#8f9bb0" stroke-width="1.45"/><path d="M1532.00 824.00 A2.65 2.65 0 1 1 1535.70 826.20 Q1534.45 826.60 1534.45 827.50" fill="none" stroke="#8f9bb0" stroke-width="1.45" stroke-linecap="round"/><circle cx="1534.45" cy="830.00" r="0.95" fill="#8f9bb0"/></svg>
<div class="r" style="left:1406.60px;top:848.20px;width:19.10px;height:13.40px;background:#3e4684;border-radius:2px;"></div>
<div class="r" style="left:1428.80px;top:848.20px;width:63.50px;height:13.40px;background:#7479a8;border-radius:2px;"></div>
<div class="r" style="left:1495.40px;top:848.20px;width:105.00px;height:13.40px;background:#b1b4d2;border-radius:2px;"></div>
<div class="r" style="left:1603.40px;top:848.20px;width:327.90px;height:13.40px;background:#a6e3d8;border-radius:2px;"></div>
<div class="r" style="left:1934.00px;top:848.20px;width:30.60px;height:13.40px;background:#5ccbb5;border-radius:2px;"></div>
<div class="r" style="left:1967.70px;top:848.20px;width:20.80px;height:13.40px;background:#16b8a0;border-radius:2px;"></div>
<div class="r" style="left:1406.5px;top:878.3px;width:9px;height:9px;border-radius:50%;background:#3e4684"></div>
<div class="t" style="left:1422.74px;top:875.41px;font-size:14.24px;color:#475569;letter-spacing:0.437px;">0.8</div>
<div class="r" style="left:1457.7px;top:878.3px;width:9px;height:9px;border-radius:50%;background:#7479a8"></div>
<div class="t" style="left:1473.94px;top:875.41px;font-size:14.24px;color:#475569;letter-spacing:0.440px;">0.6</div>
<div class="r" style="left:1508.8px;top:878.3px;width:9px;height:9px;border-radius:50%;background:#b1b4d2"></div>
<div class="t" style="left:1525.04px;top:875.41px;font-size:14.24px;color:#475569;letter-spacing:0.426px;">0.5</div>
<div class="r" style="left:1560.2px;top:878.3px;width:9px;height:9px;border-radius:50%;background:#a6e3d8"></div>
<div class="t" style="left:1576.44px;top:875.41px;font-size:14.24px;color:#475569;letter-spacing:0.336px;">0.4</div>
<div class="r" style="left:1612.2px;top:878.3px;width:9px;height:9px;border-radius:50%;background:#5ccbb5"></div>
<div class="t" style="left:1628.44px;top:875.41px;font-size:14.24px;color:#475569;letter-spacing:0.440px;">0.3</div>
<div class="r" style="left:1663.8px;top:878.3px;width:9px;height:9px;border-radius:50%;background:#16b8a0"></div>
<div class="t" style="left:1680.04px;top:875.41px;font-size:14.24px;color:#475569;letter-spacing:0.486px;">0.2</div>
<div class="t" style="left:1405.70px;top:936.71px;font-size:17.30px;color:#334155;-webkit-text-stroke:0.54px #334155;letter-spacing:0.458px;">Infiltration rate (CFM/ft²)</div>
<svg class="r" style="left:1604px;top:934px;" width="20" height="20" viewBox="1604 934 20 20"><circle cx="1613.70" cy="944.60" r="7.85" fill="none" stroke="#8f9bb0" stroke-width="1.45"/><path d="M1611.00 942.70 A2.65 2.65 0 1 1 1614.70 944.90 Q1613.45 945.30 1613.45 946.20" fill="none" stroke="#8f9bb0" stroke-width="1.45" stroke-linecap="round"/><circle cx="1613.45" cy="948.70" r="0.95" fill="#8f9bb0"/></svg>
<div class="r" style="left:1406.60px;top:966.90px;width:71.80px;height:13.40px;background:#3e4684;border-radius:2px;"></div>
<div class="r" style="left:1481.10px;top:966.90px;width:373.30px;height:13.40px;background:#8a8fb5;border-radius:2px;"></div>
<div class="r" style="left:1857.10px;top:966.90px;width:77.60px;height:13.40px;background:#d0d4dd;border-radius:2px;"></div>
<div class="r" style="left:1937.40px;top:966.90px;width:14.80px;height:13.40px;background:#77d5c5;border-radius:2px;"></div>
<div class="r" style="left:1955.00px;top:966.90px;width:33.50px;height:13.40px;background:#16b8a0;border-radius:2px;"></div>
<div class="r" style="left:1406.5px;top:997.0px;width:9px;height:9px;border-radius:50%;background:#3e4684"></div>
<div class="t" style="left:1422.74px;top:994.11px;font-size:14.24px;color:#475569;letter-spacing:0.440px;">0.3</div>
<div class="r" style="left:1457.7px;top:997.0px;width:9px;height:9px;border-radius:50%;background:#8a8fb5"></div>
<div class="t" style="left:1473.94px;top:994.11px;font-size:14.24px;color:#475569;letter-spacing:0.477px;">0.15</div>
<div class="r" style="left:1514.4px;top:997.0px;width:9px;height:9px;border-radius:50%;background:#d0d4dd"></div>
<div class="t" style="left:1530.64px;top:994.11px;font-size:14.24px;color:#475569;letter-spacing:-0.775px;">0.1</div>
<div class="r" style="left:1563.7px;top:997.0px;width:9px;height:9px;border-radius:50%;background:#77d5c5"></div>
<div class="t" style="left:1579.94px;top:994.11px;font-size:14.24px;color:#475569;letter-spacing:0.484px;">0.08</div>
<div class="r" style="left:1623.7px;top:997.0px;width:9px;height:9px;border-radius:50%;background:#16b8a0"></div>
<div class="t" style="left:1639.94px;top:994.11px;font-size:14.24px;color:#475569;letter-spacing:0.477px;">0.05</div>
<div class="t" style="left:1405.88px;top:1056.30px;font-size:17.30px;color:#334155;-webkit-text-stroke:0.54px #334155;letter-spacing:0.498px;">Lighting power density (W/ft²)</div>
<svg class="r" style="left:1648px;top:1054px;" width="20" height="20" viewBox="1648 1054 20 20"><circle cx="1657.70" cy="1064.20" r="7.85" fill="none" stroke="#8f9bb0" stroke-width="1.45"/><path d="M1655.00 1062.30 A2.65 2.65 0 1 1 1658.70 1064.50 Q1657.45 1064.90 1657.45 1065.80" fill="none" stroke="#8f9bb0" stroke-width="1.45" stroke-linecap="round"/><circle cx="1657.45" cy="1068.30" r="0.95" fill="#8f9bb0"/></svg>
<div class="r" style="left:1406.60px;top:1086.50px;width:143.30px;height:13.40px;background:#3e4684;border-radius:2px;"></div>
<div class="r" style="left:1552.90px;top:1086.50px;width:142.90px;height:13.40px;background:#8a8fb5;border-radius:2px;"></div>
<div class="r" style="left:1698.80px;top:1086.50px;width:143.50px;height:13.40px;background:#77d5c5;border-radius:2px;"></div>
<div class="r" style="left:1845.30px;top:1086.50px;width:143.20px;height:13.40px;background:#16b8a0;border-radius:2px;"></div>
<div class="r" style="left:1406.5px;top:1116.6px;width:9px;height:9px;border-radius:50%;background:#3e4684"></div>
<div class="t" style="left:1422.97px;top:1113.71px;font-size:14.24px;color:#475569;">4</div>
<div class="r" style="left:1445.9px;top:1116.6px;width:9px;height:9px;border-radius:50%;background:#8a8fb5"></div>
<div class="t" style="left:1461.61px;top:1113.71px;font-size:14.24px;color:#475569;letter-spacing:-0.295px;">1.6</div>
<div class="r" style="left:1494.8px;top:1116.6px;width:9px;height:9px;border-radius:50%;background:#77d5c5"></div>
<div class="t" style="left:1510.51px;top:1113.71px;font-size:14.24px;color:#475569;letter-spacing:-0.250px;">1.2</div>
<div class="r" style="left:1543.7px;top:1116.6px;width:9px;height:9px;border-radius:50%;background:#16b8a0"></div>
<div class="t" style="left:1559.94px;top:1113.71px;font-size:14.24px;color:#475569;letter-spacing:0.715px;">0.9</div>
<div class="t" style="left:1405.88px;top:1174.91px;font-size:17.30px;color:#334155;-webkit-text-stroke:0.54px #334155;letter-spacing:0.435px;">Equipment power density (W/ft²)</div>
<svg class="r" style="left:1669px;top:1172px;" width="20" height="20" viewBox="1669 1172 20 20"><circle cx="1678.70" cy="1182.80" r="7.85" fill="none" stroke="#8f9bb0" stroke-width="1.45"/><path d="M1676.00 1180.90 A2.65 2.65 0 1 1 1679.70 1183.10 Q1678.45 1183.50 1678.45 1184.40" fill="none" stroke="#8f9bb0" stroke-width="1.45" stroke-linecap="round"/><circle cx="1678.45" cy="1186.90" r="0.95" fill="#8f9bb0"/></svg>
<div class="r" style="left:1406.40px;top:1205.10px;width:386.10px;height:13.40px;background:#3e4684;border-radius:2px;"></div>
<div class="r" style="left:1795.50px;top:1205.10px;width:162.30px;height:13.40px;background:#8a8fb5;border-radius:2px;"></div>
<div class="r" style="left:1961.00px;top:1205.10px;width:27.50px;height:13.40px;background:#16b8a0;border-radius:2px;"></div>
<div class="r" style="left:1379.00px;top:1219.00px;width:653.00px;height:84.00px;background:#fff;border-radius:0px;border-top:1px solid #eceef2"></div>
<div class="t" style="left:1818.42px;top:1253.72px;font-size:16.86px;color:#1652e0;-webkit-text-stroke:0.52px #1652e0;letter-spacing:0.549px;">Model refinement</div>
<svg class="r" style="left:1962px;top:1248px;" width="26" height="26" viewBox="1962 1248 26 26"><g fill="none" stroke="#1652e0" stroke-width="1.9" stroke-linecap="round" stroke-linejoin="round"><path d="M1972.6 1254 L1968.4 1254 Q1966.3 1254 1966.3 1256.1 L1966.3 1266.8 Q1966.3 1268.9 1968.4 1268.9 L1979.1 1268.9 Q1981.2 1268.9 1981.2 1266.8 L1981.2 1261.8"/><path d="M1977.2 1251.9 L1983.3 1251.9 L1983.3 1258.2 M1983 1252.2 L1975.4 1259.8"/></g></svg>
<div class="r" style="left:1590.00px;top:500.70px;width:245.30px;height:106.30px;background:#fff;border-radius:8px;border:1px solid #eceef2;box-shadow:0 4px 12px rgba(15,23,42,.08)"></div>
<div class="t" style="left:1603.64px;top:519.01px;font-size:14.54px;color:#475569;">Value</div>
<div class="t" style="left:1791.73px;top:519.01px;font-size:14.54px;color:#334155;">35%</div>
<div class="t" style="left:1603.64px;top:547.01px;font-size:14.54px;color:#475569;">Value range</div>
<div class="t" style="left:1742.44px;top:547.01px;font-size:14.54px;color:#334155;">25% to 40%</div>
<div class="t" style="left:1602.51px;top:575.01px;font-size:14.54px;color:#475569;">Probability</div>
<div class="t" style="left:1778.80px;top:575.01px;font-size:14.54px;color:#334155;">62%%</div>
<svg class="r" style="left:1700px;top:608px;" width="26" height="32" viewBox="1700 608 26 32"><path d="M1706.3 613.3 L1706.3 630.3 L1710.2 626.5 L1713.1 632.6 L1715.9 631.4 L1713.1 625.4 L1718.6 625.4 Z" fill="#000" stroke="#fff" stroke-width="1.2" stroke-linejoin="round"/></svg>
</div></div></body></html>
